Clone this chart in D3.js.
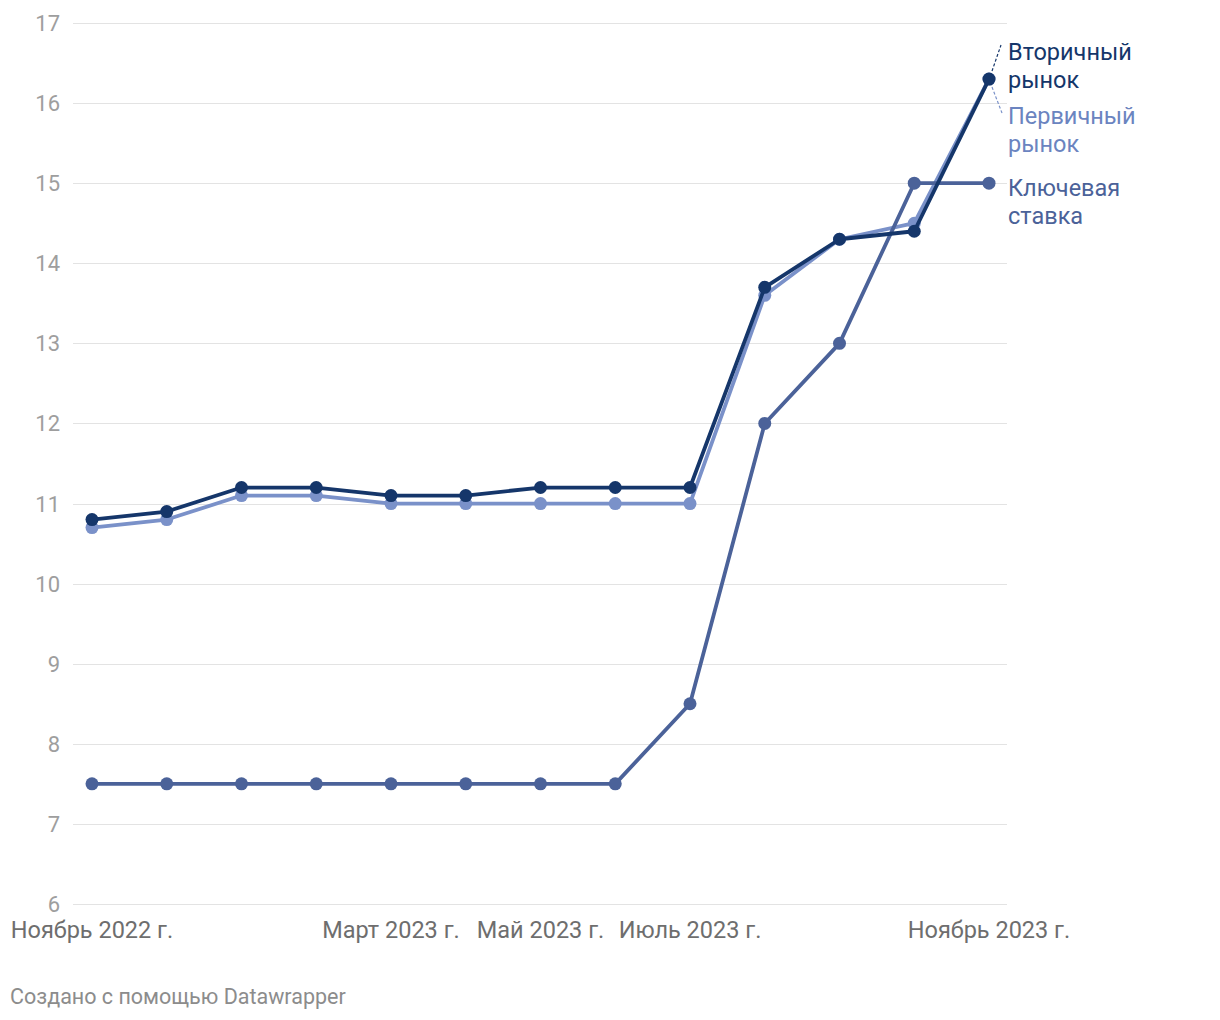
<!DOCTYPE html>
<html>
<head>
<meta charset="utf-8">
<script src="https://cdn.jsdelivr.net/npm/d3@7"></script>
<style>
  body { margin: 0; background: #fff; font-family: Roboto, "Noto Sans", sans-serif; }
  .ylab { fill: #9e9e9e; font-size: 22px; }
  .xlab { fill: #6e6e6e; font-size: 23.5px; }
  .lbl { font-size: 23.5px; }
</style>
</head>
<body>
<script>
// months (Nov 2022 .. Nov 2023)
var months = ["2022-11","2022-12","2023-01","2023-02","2023-03","2023-04","2023-05",
              "2023-06","2023-07","2023-08","2023-09","2023-10","2023-11"];
var secondary = [10.8, 10.9, 11.2, 11.2, 11.1, 11.1, 11.2, 11.2, 11.2, 13.7, 14.3, 14.4, 16.3];
var primary   = [10.7, 10.8, 11.1, 11.1, 11.0, 11.0, 11.0, 11.0, 11.0, 13.6, 14.3, 14.5, 16.3];
var keyRate   = [7.5, 7.5, 7.5, 7.5, 7.5, 7.5, 7.5, 7.5, 8.5, 12, 13, 15, 15];
var yTicks = [6, 7, 8, 9, 10, 11, 12, 13, 14, 15, 16, 17];
var xTicks = {"2022-11": "Ноябрь 2022 г.", "2023-03": "Март 2023 г.", "2023-05": "Май 2023 г.",
              "2023-07": "Июль 2023 г.", "2023-11": "Ноябрь 2023 г."};

var W = 1220, H = 1020;
var svg = d3.select("body").append("svg").attr("width", W).attr("height", H);

//Define Scales
var x = d3.scalePoint().domain(months).range([92, 989]);
var y = d3.scaleLinear().domain([6, 17]).range([904, 23]);

//Gridlines
svg.append("g").selectAll("line")
    .data(yTicks)
    .enter().append("line")
    .attr("x1", 73).attr("x2", 1007)
    .attr("y1", function(d) { return Math.round(y(d)) + 0.5; })
    .attr("y2", function(d) { return Math.round(y(d)) + 0.5; })
    .attr("stroke", "#e3e3e3")
    .attr("stroke-width", 1);

//Y labels
svg.append("g").selectAll("text")
    .data(yTicks)
    .enter().append("text")
    .attr("class", "ylab")
    .attr("x", 60)
    .attr("y", function(d) { return y(d) + 8; })
    .attr("text-anchor", "end")
    .text(function(d) { return d; });

//X labels
svg.append("g").selectAll("text")
    .data(Object.keys(xTicks))
    .enter().append("text")
    .attr("class", "xlab")
    .attr("x", function(d) { return x(d); })
    .attr("y", 938)
    .attr("text-anchor", "middle")
    .text(function(d) { return xTicks[d]; });

var series = [
  {name: "primary", values: primary, color: "#7a91c9"},
  {name: "key", values: keyRate, color: "#4b6299"},
  {name: "secondary", values: secondary, color: "#15366a"}
];

var line = d3.line()
    .x(function(d, i) { return x(months[i]); })
    .y(function(d) { return y(d); });

series.forEach(function(s) {
  var g = svg.append("g");
  g.append("path")
    .attr("d", line(s.values))
    .attr("fill", "none")
    .attr("stroke", s.color)
    .attr("stroke-width", 3.8)
    .attr("stroke-linejoin", "round");
  g.selectAll("circle")
    .data(s.values)
    .enter().append("circle")
    .attr("cx", function(d, i) { return x(months[i]); })
    .attr("cy", function(d) { return y(d); })
    .attr("r", 6.5)
    .attr("fill", s.color);
});

//Connector lines to labels
var last = months.length - 1;
svg.append("line")
    .attr("x1", x(months[last]) + 3).attr("y1", y(secondary[last]) - 8)
    .attr("x2", 1001).attr("y2", 45)
    .attr("stroke", "#15366a").attr("stroke-width", 1.2)
    .attr("stroke-dasharray", "3,2");
svg.append("line")
    .attr("x1", x(months[last]) + 3).attr("y1", y(primary[last]) + 8)
    .attr("x2", 1002).attr("y2", 113)
    .attr("stroke", "#7a91c9").attr("stroke-width", 1.2)
    .attr("stroke-dasharray", "3,2");

//Series labels
var labels = [
  {lines: ["Вторичный", "рынок"], y: 60, color: "#15366a"},
  {lines: ["Первичный", "рынок"], y: 124, color: "#6b84c0"},
  {lines: ["Ключевая", "ставка"], y: 196, color: "#4b6299"}
];
labels.forEach(function(l) {
  var t = svg.append("text")
      .attr("class", "lbl")
      .attr("x", 1008)
      .attr("y", l.y)
      .attr("fill", l.color);
  l.lines.forEach(function(s, i) {
    t.append("tspan").attr("x", 1008).attr("dy", i ? 28 : 0).text(s);
  });
});

//Footer
svg.append("text")
    .attr("x", 10).attr("y", 1004)
    .attr("fill", "#8c8c8c")
    .attr("font-size", 21.5)
    .text("Создано с помощью Datawrapper");
</script>
</body>
</html>
